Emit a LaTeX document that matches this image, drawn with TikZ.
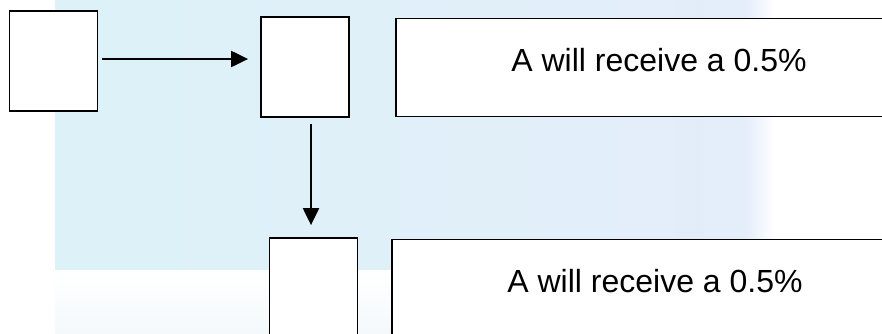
\documentclass[tikz,border=0pt]{standalone}
\usepackage{fontspec}
\setmainfont{Liberation Sans}
\usepackage{xcolor}
\usepackage{tikz}
\usetikzlibrary{arrows.meta}
\definecolor{ink}{HTML}{000000}
\definecolor{bgleft}{HTML}{DCF2F8}
\definecolor{bgright}{HTML}{E4EDFA}
\definecolor{bglow}{HTML}{F4F9FB}
\tikzset{
  blank/.style={draw=ink, fill=white, line width=0.9pt, inner sep=0pt},
  smallbox/.style={blank, minimum width=44pt, minimum height=50pt},
  widebox/.style={blank, minimum width=263pt, minimum height=49pt,
    font=\fontsize{16pt}{19pt}\selectfont, text height=16pt, text depth=12.5pt},
  arr/.style={-{Triangle[length=8.5pt,width=8pt]}, line width=1.1pt, draw=ink}
}
\begin{document}
\begin{tikzpicture}[x=0.5pt,y=-0.5pt]
  \useasboundingbox (0,0) rectangle (882,333);
  \clip (0,0) rectangle (882,333);
  % backdrop
  \fill[white] (0,0) rectangle (882,333);
  \shade[left color=bgleft, right color=bgright] (55,0) rectangle (745,270);
  \shade[left color=bgright, right color=white] (745,0) rectangle (775,270);
  \shade[top color=white, bottom color=bglow] (55,270) rectangle (770,333);
  % boxes
  \node[smallbox] (src) at (53.5,61) {};
  \node[smallbox] (mid) at (305,67) {};
  \node[widebox] (msgtop) at (659,67.5) {A will receive a 0.5\%};
  \node[smallbox] (low) at (313.5,288) {};
  \node[widebox] (msglow) at (655,288.5) {A will receive a 0.5\%};
  % arrows
  \draw[arr, shorten <=2pt, shorten >=6pt]
    ([yshift=1pt]src.east) -- ([yshift=1pt]src.east -| mid.west);
  \draw[arr, shorten <=3pt, shorten >=6pt]
    ([xshift=3pt]mid.south) -- ([xshift=3pt]mid.south |- low.north);
\end{tikzpicture}
\end{document}
